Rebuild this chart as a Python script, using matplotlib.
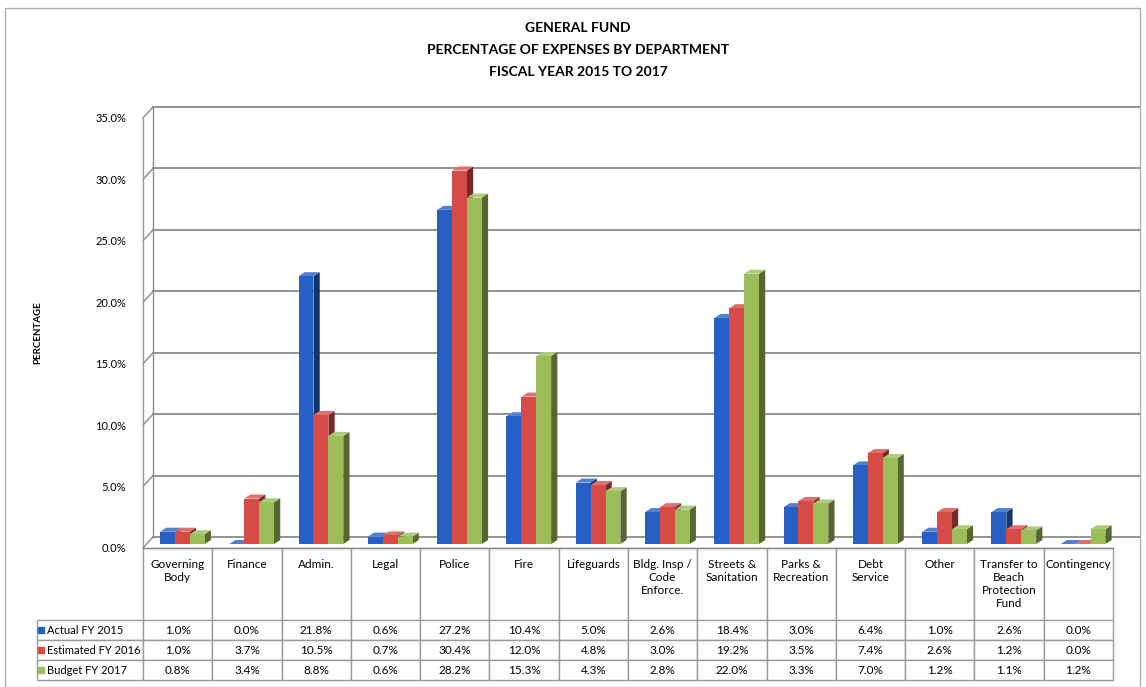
import matplotlib.pyplot as plt
import matplotlib.colors as mcolors
from matplotlib.patches import Polygon, Rectangle
from matplotlib.transforms import offset_copy
import numpy as np

departments = ["Governing\nBody", "Finance", "Admin.", "Legal", "Police", "Fire",
               "Lifeguards", "Bldg. Insp /\nCode\nEnforce.", "Streets &\nSanitation",
               "Parks &\nRecreation", "Debt\nService", "Other",
               "Transfer to\nBeach\nProtection\nFund", "Contingency"]
series_names = ["Actual FY 2015", "Estimated FY 2016", "Budget FY 2017"]
actual_2015 = [1.0, 0.0, 21.8, 0.6, 27.2, 10.4, 5.0, 2.6, 18.4, 3.0, 6.4, 1.0, 2.6, 0.0]
estimated_2016 = [1.0, 3.7, 10.5, 0.7, 30.4, 12.0, 4.8, 3.0, 19.2, 3.5, 7.4, 2.6, 1.2, 0.0]
budget_2017 = [0.8, 3.4, 8.8, 0.6, 28.2, 15.3, 4.3, 2.8, 22.0, 3.3, 7.0, 1.2, 1.1, 1.2]
y_ticks = [0, 5, 10, 15, 20, 25, 30, 35]

colors = ["#2660c4", "#d64b45", "#9bbd5a"]


def shade(c, f):
    """Scale an RGB colour towards black (f<1) or white (f>1)."""
    r = np.array(mcolors.to_rgb(c))
    if f < 1:
        return tuple(r * f)
    return tuple(r + (1 - r) * (f - 1))


def draw_bar(ax, tr, x0, w, h, c, dx, dy):
    """Draw a pseudo 3D bar: side, top then front face."""
    side = [(x0 + w, 0), (x0 + w + dx, dy), (x0 + w + dx, h + dy), (x0 + w, h)]
    top = [(x0, h), (x0 + w, h), (x0 + w + dx, h + dy), (x0 + dx, h + dy)]
    ax.add_patch(Polygon(side, closed=True, facecolor=shade(c, 0.55), edgecolor="none",
                         zorder=3, transform=tr, clip_on=False))
    ax.add_patch(Polygon(top, closed=True, facecolor=shade(c, 1.2), edgecolor="none",
                         zorder=3, transform=tr, clip_on=False))
    ax.add_patch(Rectangle((x0, 0), w, h, facecolor=c, edgecolor="none", zorder=3,
                           transform=tr, clip_on=False))


def plot_general_fund():
    """Grouped bar chart with a data table underneath."""
    plt.rcParams['font.family'] = ['Lato', 'DejaVu Sans']
    fig = plt.figure(figsize=(11.46, 6.87), dpi=100)
    ax = fig.add_axes([143 / 1146, 139 / 687, 970 / 1146, 430 / 687])

    n = len(departments)
    x = np.arange(n)
    ax.set_xlim(-0.5, n - 0.5)
    ax.set_ylim(0, 35)

    # back-wall gridlines (shifted up/right like the 3D original)
    back = offset_copy(ax.transData, fig=fig, x=10, y=11, units='dots')
    for t in y_ticks:
        ax.plot([-0.5, n - 0.5 + 0.25], [t, t], transform=back, color="#8a8a8a",
                lw=1.3, clip_on=False, zorder=1)
        ax.plot([-0.5, -0.5 + 10 / 69.3], [t, t + 11 / 430 * 35], color="#8a8a8a",
                lw=1.0, clip_on=False, zorder=1)
    ax.plot([-0.5, -0.5], [0, 35], transform=back, color="#8a8a8a", lw=1.0, clip_on=False)
    ax.plot([-0.5, -0.5], [0, 35], color="#9a9a9a", lw=1.0, clip_on=False)
    ax.plot([-0.5, n - 0.5], [0, 0], color="#8a8a8a", lw=1.0, clip_on=False)

    # bars sit half way into the depth of the floor
    mid = offset_copy(ax.transData, fig=fig, x=3, y=4, units='dots')
    width = 0.215
    offsets = [-0.19, 0.025, 0.24]
    dx = 0.09
    dy = 4 / 430 * 35
    for i in range(n):
        for vals, off, c in zip([actual_2015, estimated_2016, budget_2017], offsets, colors):
            draw_bar(ax, mid, x[i] + off - width / 2, width, vals[i], c, dx, dy)

    ax.set_yticks(y_ticks)
    ax.set_yticklabels([f"{t:.1f}%" for t in y_ticks], fontsize=8)
    ax.tick_params(axis='y', length=0, pad=12)
    ax.set_xticks([])
    for s in ax.spines.values():
        s.set_visible(False)

    # data table
    rows = [[""] + [d + "\n" * (3 - d.count("\n")) for d in departments]]
    for name, vals in zip(series_names, [actual_2015, estimated_2016, budget_2017]):
        rows.append([name] + [f"{v:.1f}%" for v in vals])
    label_w = 106 / 970
    table = ax.table(cellText=rows, cellLoc='center',
                     bbox=[-label_w, -132 / 430, 1 + label_w, 132 / 430])
    table.auto_set_font_size(False)
    table.set_fontsize(8.5)
    for (r, c), cell in table.get_celld().items():
        cell.set_edgecolor("#9a9a9a")
        cell.set_linewidth(1.0)
        cell.set_width(label_w if c == 0 else 1 / n)
        cell.set_height(72 if r == 0 else 20)
        if c == 0:
            cell.get_text().set_ha('left')
            cell.get_text().set_fontsize(8)
            cell._loc = 'left'
            cell.PAD = 0.09
        if r == 0 and c == 0:
            cell.visible_edges = ''
        elif r == 0:
            cell.visible_edges = 'LRT'

    # legend keys inside the row labels
    row_y = [630, 650, 670]
    for yy, c in zip(row_y, colors):
        fig.lines.append(plt.Line2D([41 / 1146], [1 - yy / 687], marker='s', markersize=4.5,
                                    color=c, transform=fig.transFigure))

    fig.text(0.5045, 1 - 28 / 687, "GENERAL FUND", ha='center', va='center',
             fontsize=10, fontweight='bold')
    fig.text(0.5045, 1 - 50 / 687, "PERCENTAGE OF EXPENSES BY DEPARTMENT", ha='center',
             va='center', fontsize=10, fontweight='bold')
    fig.text(0.5045, 1 - 72 / 687, "FISCAL YEAR 2015 TO 2017", ha='center', va='center',
             fontsize=10, fontweight='bold')
    fig.text(38 / 1146, 1 - 333 / 687, "PERCENTAGE", rotation=90, ha='center', va='center',
             fontsize=7, fontweight='bold')

    fig.patches.append(Rectangle((5 / 1146, 0), 1135 / 1146, 1 - 8 / 687, fill=False,
                                 edgecolor="#b0b0b0", lw=1.0, transform=fig.transFigure))

    fig.savefig("out.png", dpi=100)


if __name__ == '__main__':
    plot_general_fund()
